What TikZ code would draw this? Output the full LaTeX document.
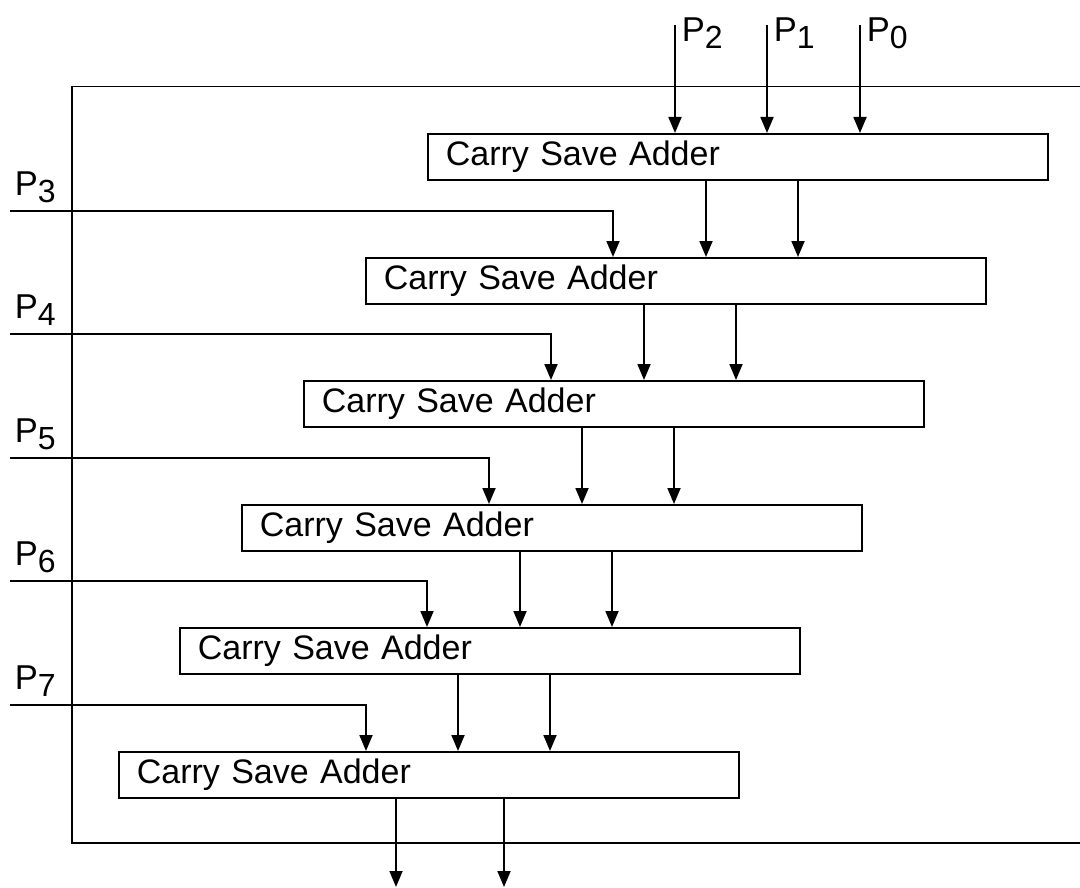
\documentclass[tikz,border=0pt]{standalone}
\usepackage{fontspec}
\setmainfont{Liberation Sans}
\usetikzlibrary{arrows.meta}
\newcommand\Plabel[1]{P\raisebox{-7pt}{\fontsize{32}{32}\selectfont #1}}
\begin{document}
\begin{tikzpicture}[x=1pt,y=-1pt,
  line width=1.8pt,
  csa/.style={draw, rectangle, anchor=north west, minimum width=620pt,
    minimum height=46pt, text width=584pt, inner xsep=18pt, inner ysep=0pt,
    align=left, font=\fontsize{34}{40}\selectfont},
  lbl/.style={anchor=base west, inner sep=0pt, font=\fontsize{34.5}{40}\selectfont},
  arr/.style={-{Triangle[width=13pt,length=16pt]}}]
\useasboundingbox (0,0) rectangle (1080,888);

% enclosing frame, open towards the right
\draw (1080,86.5) -- (72,86.5) -- (72,843) -- (1080,843);

% cascade of carry save adders
\node[csa] (b1) at (427,133) {Carry Save Adder};
\node[csa] (b2) at (365,257) {Carry Save Adder};
\node[csa] (b3) at (303,380) {Carry Save Adder};
\node[csa] (b4) at (241,504) {Carry Save Adder};
\node[csa] (b5) at (179,627) {Carry Save Adder};
\node[csa] (b6) at (118,751) {Carry Save Adder};

% top inputs P2, P1, P0
\coordinate (t2) at (675,25);
\coordinate (t1) at (767,25);
\coordinate (t0) at (860,25);
\node[lbl] (lt2) at (681,42) {\Plabel{2}};
\node[lbl] (lt1) at (773,42) {\Plabel{1}};
\node[lbl] (lt0) at (866,42) {\Plabel{0}};
\foreach \t in {t2,t1,t0}
  \draw[arr] (\t) -- (\t |- b1.north);

% side inputs P3 ... P7
\foreach \k/\b/\y in {3/b2/210.7, 4/b3/334, 5/b4/458, 6/b5/581, 7/b6/705} {
  \coordinate (in\k) at (10,\y);
  \node[lbl] (l\k) at (14,\y-15.5) {\Plabel{\k}};
  \draw[arr] (in\k) -| ([xshift=248pt]\b.north west);
}

% sum and carry passed from stage to stage
\foreach \a/\b in {b1/b2, b2/b3, b3/b4, b4/b5, b5/b6} {
  \draw[arr] ([xshift=279pt]\a.south west) -- ([xshift=279pt]\a.south west |- \b.north);
  \draw[arr] ([xshift=371pt]\a.south west) -- ([xshift=371pt]\a.south west |- \b.north);
}

% final outputs
\coordinate (o1) at (396,887);
\coordinate (o2) at (504,887);
\draw[arr] (o1 |- b6.south) -- (o1);
\draw[arr] (o2 |- b6.south) -- (o2);
\end{tikzpicture}
\end{document}
